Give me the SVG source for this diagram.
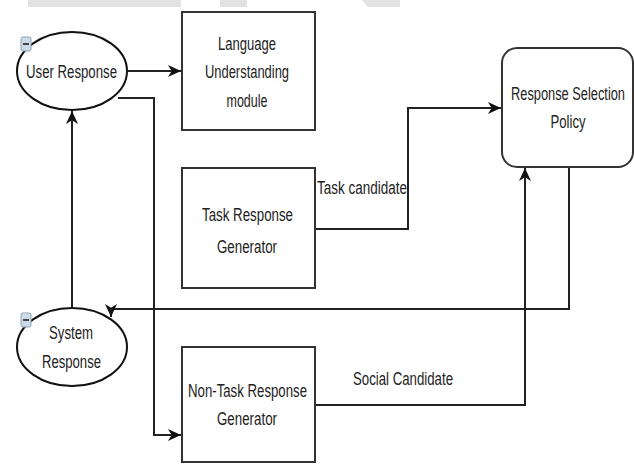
<svg xmlns="http://www.w3.org/2000/svg" width="634" height="464" viewBox="0 0 634 464">
<style>
.box{fill:#fff;stroke:#333;stroke-width:2}
.ell{fill:#fff;stroke:#111;stroke-width:2}
.ln{fill:none;stroke:#222;stroke-width:2}
.t{font-family:"Liberation Sans",Arial,sans-serif;font-size:17.5px;fill:#222;text-anchor:middle}
.ic{fill:#cddbe8;stroke:#8fa3b5;stroke-width:1}
.wm{fill:#e2e2e2}
</style>
<defs>
<marker id="arr" markerUnits="userSpaceOnUse" markerWidth="14" markerHeight="12" viewBox="0 0 12 11" refX="12" refY="5.5" orient="auto">
<path d="M0,0 L12,5.5 L0,11 L3.5,5.5 Z" fill="#111"/>
</marker>
</defs>
<rect width="634" height="464" fill="#fff"/>
<g id="watermark">
<rect class="wm" x="28" y="0" width="153" height="7"/>
<rect class="wm" x="220" y="0" width="27" height="7"/>
<polygon class="wm" points="362,0 400,0 400,7 368,7"/>
</g>
<g id="connectors">
<path class="ln" d="M128,71 H181" marker-end="url(#arr)"/>
<path class="ln" d="M118,98 H154 V435 H181" marker-end="url(#arr)"/>
<path class="ln" d="M72,308 V111" marker-end="url(#arr)"/>
<path class="ln" d="M315,229 H408 V108 H501" marker-end="url(#arr)"/>
<path class="ln" d="M315,405 H525 V168" marker-end="url(#arr)"/>
<path class="ln" d="M569,167 V309 H111 V317" marker-end="url(#arr)"/>
<text class="t" x="362" y="194" textLength="90" lengthAdjust="spacingAndGlyphs">Task candidate</text>
<text class="t" x="403" y="385" textLength="100" lengthAdjust="spacingAndGlyphs">Social Candidate</text>
</g>
<g id="user-response">
<ellipse class="ell" cx="72" cy="71" rx="55" ry="39"/>
<rect class="ic" x="21" y="37" width="10" height="14" rx="2"/>
<line x1="23" y1="44" x2="29" y2="44" stroke="#444" stroke-width="2"/>
<text class="t" x="71.5" y="78" textLength="91" lengthAdjust="spacingAndGlyphs">User Response</text>
</g>
<g id="language-understanding">
<rect class="box" x="182" y="12" width="133" height="118"/>
<text class="t" x="247" y="50" textLength="58" lengthAdjust="spacingAndGlyphs">Language</text>
<text class="t" x="247" y="78" textLength="84" lengthAdjust="spacingAndGlyphs">Understanding</text>
<text class="t" x="247" y="107" textLength="41" lengthAdjust="spacingAndGlyphs">module</text>
</g>
<g id="response-selection-policy">
<rect class="box" x="502" y="48" width="131" height="119" rx="15"/>
<text class="t" x="568" y="100" textLength="114" lengthAdjust="spacingAndGlyphs">Response Selection</text>
<text class="t" x="568" y="128" textLength="35" lengthAdjust="spacingAndGlyphs">Policy</text>
</g>
<g id="task-response-generator">
<rect class="box" x="182" y="168" width="133" height="120"/>
<text class="t" x="247.5" y="221" textLength="91" lengthAdjust="spacingAndGlyphs">Task Response</text>
<text class="t" x="247" y="253" textLength="60" lengthAdjust="spacingAndGlyphs">Generator</text>
</g>
<g id="system-response">
<ellipse class="ell" cx="72" cy="347" rx="55" ry="39"/>
<rect class="ic" x="21" y="313" width="10" height="14" rx="2"/>
<line x1="23" y1="320" x2="29" y2="320" stroke="#444" stroke-width="2"/>
<text class="t" x="71" y="339" textLength="44" lengthAdjust="spacingAndGlyphs">System</text>
<text class="t" x="71.5" y="368" textLength="59" lengthAdjust="spacingAndGlyphs">Response</text>
</g>
<g id="non-task-response-generator">
<rect class="box" x="182" y="347" width="133" height="115"/>
<text class="t" x="247.5" y="397" textLength="119" lengthAdjust="spacingAndGlyphs">Non-Task Response</text>
<text class="t" x="247" y="425" textLength="60" lengthAdjust="spacingAndGlyphs">Generator</text>
</g>
</svg>
